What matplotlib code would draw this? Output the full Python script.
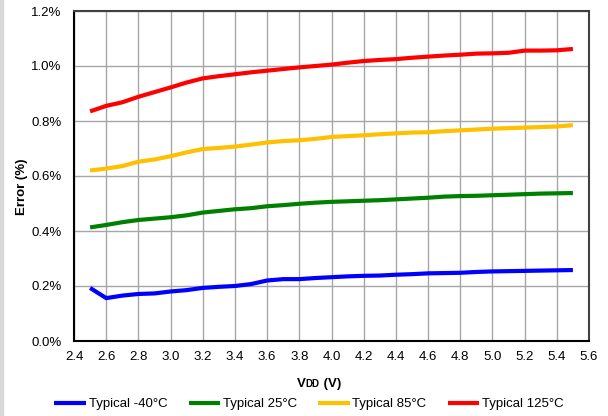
import matplotlib
matplotlib.use('Agg')
import matplotlib.pyplot as plt
from matplotlib.patches import Rectangle
from matplotlib.ticker import FuncFormatter

plt.rcParams['font.family'] = ['Liberation Sans', 'DejaVu Sans']

vdd = [2.5, 2.6, 2.7, 2.8, 2.9, 3.0, 3.1, 3.2, 3.3, 3.4, 3.5, 3.6, 3.7, 3.8, 3.9, 4.0,
       4.1, 4.2, 4.3, 4.4, 4.5, 4.6, 4.7, 4.8, 4.9, 5.0, 5.1, 5.2, 5.3, 5.4, 5.5]

err_m40 = [0.193, 0.156, 0.165, 0.171, 0.173, 0.180, 0.185, 0.193, 0.197, 0.200, 0.207,
           0.220, 0.225, 0.225, 0.229, 0.232, 0.235, 0.237, 0.238, 0.241, 0.243, 0.246,
           0.247, 0.248, 0.251, 0.253, 0.254, 0.255, 0.256, 0.257, 0.258]
err_25 = [0.413, 0.422, 0.432, 0.440, 0.445, 0.450, 0.457, 0.467, 0.473, 0.479, 0.483,
          0.490, 0.494, 0.499, 0.503, 0.506, 0.508, 0.510, 0.512, 0.515, 0.518, 0.521,
          0.525, 0.527, 0.528, 0.530, 0.532, 0.534, 0.536, 0.537, 0.538]
err_85 = [0.620, 0.627, 0.636, 0.652, 0.660, 0.672, 0.686, 0.698, 0.702, 0.707, 0.714,
          0.722, 0.727, 0.730, 0.735, 0.742, 0.745, 0.748, 0.752, 0.755, 0.758, 0.759,
          0.763, 0.766, 0.769, 0.772, 0.774, 0.776, 0.778, 0.780, 0.785]
err_125 = [0.835, 0.855, 0.868, 0.888, 0.905, 0.922, 0.940, 0.955, 0.963, 0.970, 0.977,
           0.983, 0.989, 0.995, 1.000, 1.005, 1.012, 1.018, 1.022, 1.025, 1.030, 1.034,
           1.038, 1.041, 1.045, 1.046, 1.048, 1.056, 1.056, 1.057, 1.062]

series = [
    ('Typical -40°C', err_m40, '#0000ff'),
    ('Typical 25°C', err_25, '#008000'),
    ('Typical 85°C', err_85, '#ffc000'),
    ('Typical 125°C', err_125, '#ff0000'),
]

xticks = [2.4 + 0.2 * i for i in range(17)]
yticks = [0.0, 0.2, 0.4, 0.6, 0.8, 1.0, 1.2]

fig = plt.figure(figsize=(6.08, 4.16), dpi=100)
fig.patches.append(Rectangle((0, 0), 3 / 608, 1, transform=fig.transFigure,
                             color='#d9d9d9', zorder=0))
ax = fig.add_axes([74 / 608, 75 / 416, 515 / 608, 330 / 416])

for name, vals, col in series:
    ax.plot(vdd, vals, color=col, lw=3, label=name, solid_capstyle='butt')

ax.set_xlim(2.4, 5.6)
ax.set_ylim(0, 1.2)
ax.set_xticks(xticks)
ax.set_yticks(yticks)
ax.xaxis.set_major_formatter(FuncFormatter(lambda v, p: '%.1f' % v))
ax.yaxis.set_major_formatter(FuncFormatter(lambda v, p: '%.1f%%' % v))
ax.tick_params(length=0, labelsize=9.5, colors='#000000')
ax.tick_params(axis='y', pad=9)
ax.tick_params(axis='x', pad=7)
ax.grid(True, color='#a6a6a6', lw=1)
ax.set_axisbelow(True)

ax.spines['left'].set_color('#000000')
ax.spines['bottom'].set_color('#000000')
ax.spines['top'].set_color('#404040')
ax.spines['right'].set_color('#404040')
for s in ax.spines.values():
    s.set_linewidth(1.5)

fig.text(22 / 608, 1 - 187 / 416, 'Error (%)', fontsize=9.5, fontweight='bold',
         rotation=90, ha='center', va='center')

# x label: V with small-caps DD
fig.canvas.draw()
r = fig.canvas.get_renderer()
y0 = 1 - 387 / 416
t1 = fig.text(297 / 608, y0, 'V', fontsize=9.5, fontweight='bold', va='baseline')
bb = t1.get_window_extent(r)
t2 = fig.text(bb.x1 / 608, y0, 'DD', fontsize=7, fontweight='bold', va='baseline')
bb = t2.get_window_extent(r)
fig.text(bb.x1 / 608, y0, ' (V)', fontsize=9.5, fontweight='bold', va='baseline')

fig.legend(loc='center', bbox_to_anchor=(309 / 608, 1 - 404 / 416), ncol=4,
           frameon=False, fontsize=9.5, handlelength=2.4, handletextpad=0.2,
           columnspacing=1.6)

fig.savefig('out.png', dpi=100)
